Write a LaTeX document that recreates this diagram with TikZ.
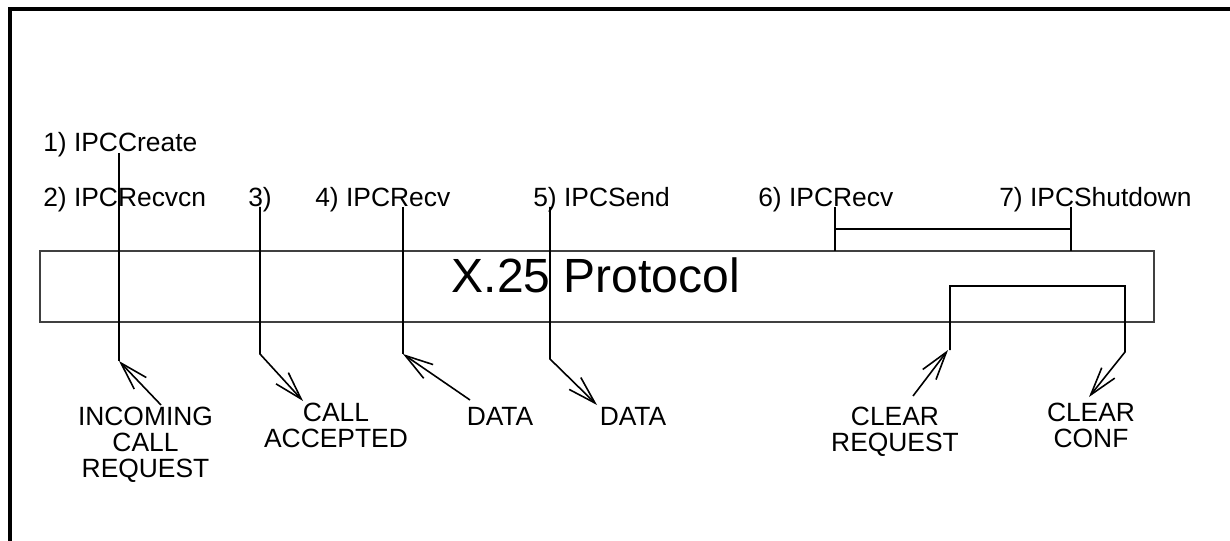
\documentclass[tikz,border=0pt]{standalone}
\usepackage{fontspec}
\setmainfont{Liberation Sans}
\usetikzlibrary{arrows.meta}
\begin{document}
\begin{tikzpicture}[x=0.75pt,y=-0.75pt,
  lbl/.style={font=\fontsize{19.8}{19.8}\selectfont, inner sep=0pt},
  biglbl/.style={font=\fontsize{19.8}{19.5}\selectfont, inner sep=0pt, align=center, anchor=north},
  conn/.style={line width=1.2pt, draw=black},
  arr/.style={conn, -{Straight Barb[length=21pt,width=12.5pt,line width=1.2pt]}},
  frame/.style={line width=2.3pt, draw=black},
  protobox/.style={draw=black!75, line width=0.8pt, minimum width=835.5pt, minimum height=53.25pt, inner sep=0pt}]
\useasboundingbox (0,0) rectangle (1230,541);
% outer frame
\coordinate (fbl) at (10,545);
\coordinate (ftl) at (10,9);
\coordinate (ftr) at (1235,9);
\draw[frame] (fbl) -- (ftl) -- (ftr);

% protocol box
\node[protobox] (proto) at (597,286.5) {};
\node[font=\fontsize{36}{36}\selectfont, inner sep=0pt, anchor=base] (ptitle) at (596,292) {X.25 Protocol};

% top labels
\node[lbl, anchor=base west] (l1) at (43,152) {1) IPCCreate};
\node[lbl, anchor=base west] (l2) at (43,207) {2) IPCRecvcn};
\node[lbl, anchor=base west] (l3) at (248,207) {3)};
\node[lbl, anchor=base west] (l4) at (315,207) {4) IPCRecv};
\node[lbl, anchor=base west] (l5) at (533,207) {5) IPCSend};
\node[lbl, anchor=base west] (l6) at (758,207) {6) IPCRecv};
\node[lbl, anchor=base west] (l7) at (999,207) {7) IPCShutdown};

% bottom labels
\node[biglbl] (lin) at (145.5,407) {INCOMING\\CALL\\REQUEST};
\node[biglbl] (lacc) at (336,403) {CALL\\ACCEPTED};
\node[biglbl] (ld1) at (500,407) {DATA};
\node[biglbl] (ld2) at (633,407) {DATA};
\node[biglbl] (lcr) at (895,407) {CLEAR\\REQUEST};
\node[biglbl] (lcc) at (1091,403) {CLEAR\\CONF};

% 1) / 2) line
\coordinate (a1) at (119,153);
\coordinate (b1) at (119,361);
\coordinate (t1) at (161,405);
\draw[conn] (a1) -- (b1);
\draw[arr] (t1) -- (b1);

% 3) line
\coordinate (a2) at (260,207);
\coordinate (b2) at (260,354);
\coordinate (h2) at (303,401);
\draw[arr] (a2) -- (b2) -- (h2);

% 4) line
\coordinate (a3) at (403,207);
\coordinate (b3) at (403,354);
\coordinate (t3) at (470,400);
\draw[conn] (a3) -- (b3);
\draw[arr] (t3) -- (b3);

% 5) line
\coordinate (a4) at (550,207);
\coordinate (b4) at (550,359);
\coordinate (h4) at (597,405);
\draw[arr] (a4) -- (b4) -- (h4);

% 6) / 7) bracket
\coordinate (a6) at (835,207);
\coordinate (b6) at (835,251);
\coordinate (a7) at (1071,207);
\coordinate (b7) at (1071,251);
\coordinate (m6) at (835,229);
\coordinate (m7) at (1071,229);
\draw[conn] (a6) -- (b6) (a7) -- (b7) (m6) -- (m7);

% clear bracket
\coordinate (c1) at (950,350);
\coordinate (c2) at (950,286);
\coordinate (c3) at (1125,286);
\coordinate (c4) at (1125,352);
\coordinate (hc) at (1089,397);
\draw[arr] (c1) -- (c2) -- (c3) -- (c4) -- (hc);
\coordinate (tcr) at (913,396);
\coordinate (bcr) at (948,350);
\draw[arr] (tcr) -- (bcr);
\end{tikzpicture}
\end{document}
